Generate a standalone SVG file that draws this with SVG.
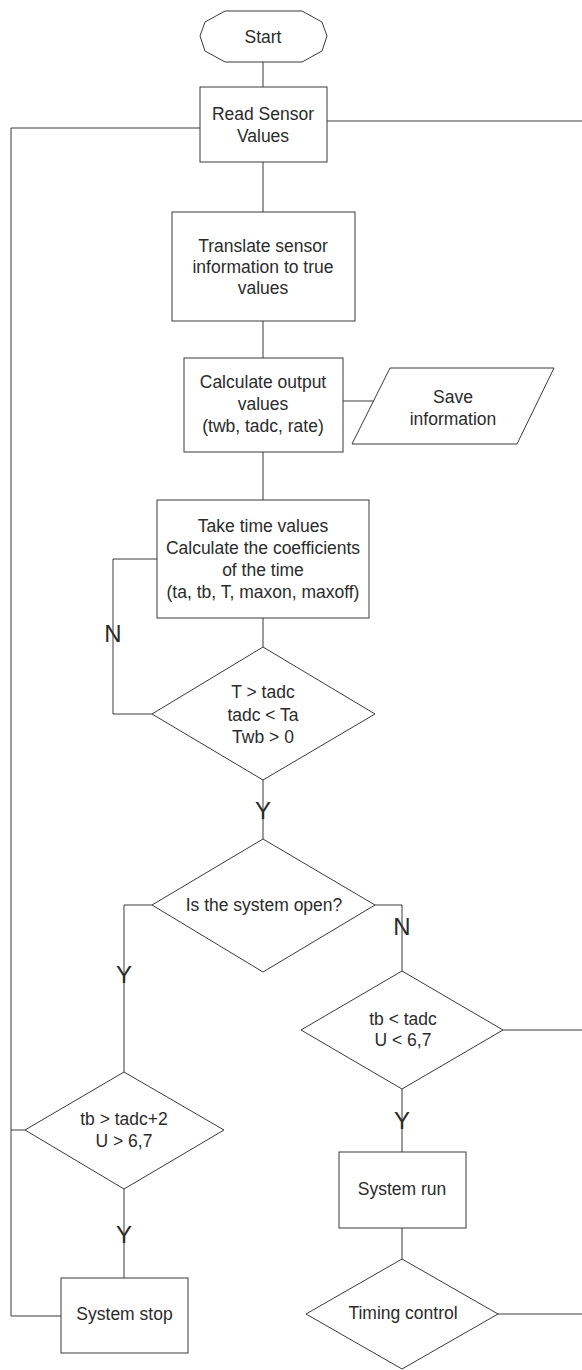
<svg xmlns="http://www.w3.org/2000/svg" width="582" height="1370" viewBox="0 0 582 1370">
  <style>
    .shape { fill: #ffffff; stroke: #3a3a3a; stroke-width: 1; }
    .wire { fill: none; stroke: #3a3a3a; stroke-width: 1; }
    .txt { font-family: "Liberation Sans", Arial, sans-serif; font-size: 17.5px; fill: #2b2b2b; text-anchor: middle; }
    .lbl { font-family: "Liberation Sans", Arial, sans-serif; font-size: 24px; fill: #2b2b2b; text-anchor: middle; }
  </style>
  <rect width="582" height="1370" fill="#ffffff"/>

  <!-- connectors -->
  <g id="connectors">
    <line class="wire" x1="263" y1="62" x2="263" y2="87"/>
    <line class="wire" x1="263" y1="162" x2="263" y2="212"/>
    <line class="wire" x1="263" y1="321" x2="263" y2="358"/>
    <line class="wire" x1="343" y1="401" x2="374" y2="401"/>
    <line class="wire" x1="263" y1="452" x2="263" y2="500"/>
    <line class="wire" x1="263" y1="618" x2="263" y2="647"/>
    <polyline class="wire" points="157,559 113,559 113,714 152,714"/>
    <line class="wire" x1="263" y1="780" x2="263" y2="839"/>
    <polyline class="wire" points="152,905 124,905 124,1072"/>
    <polyline class="wire" points="375,905 402,905 402,971"/>
    <line class="wire" x1="503" y1="1030" x2="582" y2="1030"/>
    <line class="wire" x1="402" y1="1089" x2="402" y2="1152"/>
    <line class="wire" x1="402" y1="1228" x2="402" y2="1259"/>
    <line class="wire" x1="498" y1="1314" x2="582" y2="1314"/>
    <line class="wire" x1="124" y1="1189" x2="124" y2="1278"/>
    <polyline class="wire" points="61,1316 11,1316 11,128 200,128"/>
    <line class="wire" x1="25" y1="1130" x2="11" y2="1130"/>
    <line class="wire" x1="327" y1="121" x2="582" y2="121"/>
    <!-- branch labels -->
    <text class="lbl" x="113" y="642">N</text>
    <text class="lbl" x="263" y="819">Y</text>
    <text class="lbl" x="124" y="983">Y</text>
    <text class="lbl" x="402" y="935">N</text>
    <text class="lbl" x="402" y="1129">Y</text>
    <text class="lbl" x="124" y="1243">Y</text>
  </g>

  <g id="start">
    <polygon class="shape" points="225,11 302,11 322,22 327,36 322,51 302,62 225,62 205,51 200,36 205,22"/>
    <text class="txt" x="263" y="43">Start</text>
  </g>

  <g id="read-sensor">
    <rect class="shape" x="200" y="87" width="127" height="75"/>
    <text class="txt" x="263" y="120">Read Sensor</text>
    <text class="txt" x="263" y="142">Values</text>
  </g>

  <g id="translate">
    <rect class="shape" x="172" y="212" width="183" height="109"/>
    <text class="txt" x="263" y="252">Translate sensor</text>
    <text class="txt" x="263" y="273">information to true</text>
    <text class="txt" x="263" y="294">values</text>
  </g>

  <g id="calculate-output">
    <rect class="shape" x="184" y="358" width="159" height="94"/>
    <text class="txt" x="263" y="388">Calculate output</text>
    <text class="txt" x="263" y="410">values</text>
    <text class="txt" x="263" y="432">(twb, tadc, rate)</text>
  </g>

  <g id="save-information">
    <polygon class="shape" points="390,368 554,368 517,444 352,444"/>
    <text class="txt" x="453" y="403">Save</text>
    <text class="txt" x="453" y="425">information</text>
  </g>

  <g id="time-coefficients">
    <rect class="shape" x="157" y="500" width="212" height="118"/>
    <text class="txt" x="263" y="532">Take time values</text>
    <text class="txt" x="263" y="554">Calculate the coefficients</text>
    <text class="txt" x="263" y="576">of the time</text>
    <text class="txt" x="263" y="598">(ta, tb, T, maxon, maxoff)</text>
  </g>

  <g id="check-time">
    <polygon class="shape" points="263,647 375,714 263,780 152,714"/>
    <text class="txt" x="263" y="698">T &gt; tadc</text>
    <text class="txt" x="263" y="721">tadc &lt; Ta</text>
    <text class="txt" x="263" y="743">Twb &gt; 0</text>
  </g>

  <g id="system-open">
    <polygon class="shape" points="263,839 375,905 263,972 152,905"/>
    <text class="txt" x="264" y="911">Is the system open?</text>
  </g>

  <g id="check-run">
    <polygon class="shape" points="402,971 503,1030 402,1089 301,1030"/>
    <text class="txt" x="403" y="1025">tb &lt; tadc</text>
    <text class="txt" x="403" y="1046">U &lt; 6,7</text>
  </g>

  <g id="check-stop">
    <polygon class="shape" points="124,1072 224,1130 124,1189 25,1130"/>
    <text class="txt" x="124" y="1125">tb &gt; tadc+2</text>
    <text class="txt" x="124" y="1147">U &gt; 6,7</text>
  </g>

  <g id="system-run">
    <rect class="shape" x="339" y="1152" width="127" height="76"/>
    <text class="txt" x="402" y="1195">System run</text>
  </g>

  <g id="timing-control">
    <polygon class="shape" points="402,1259 498,1314 402,1369 306,1314"/>
    <text class="txt" x="403" y="1319">Timing control</text>
  </g>

  <g id="system-stop">
    <rect class="shape" x="61" y="1278" width="127" height="75"/>
    <text class="txt" x="124.5" y="1320">System stop</text>
  </g>
</svg>
